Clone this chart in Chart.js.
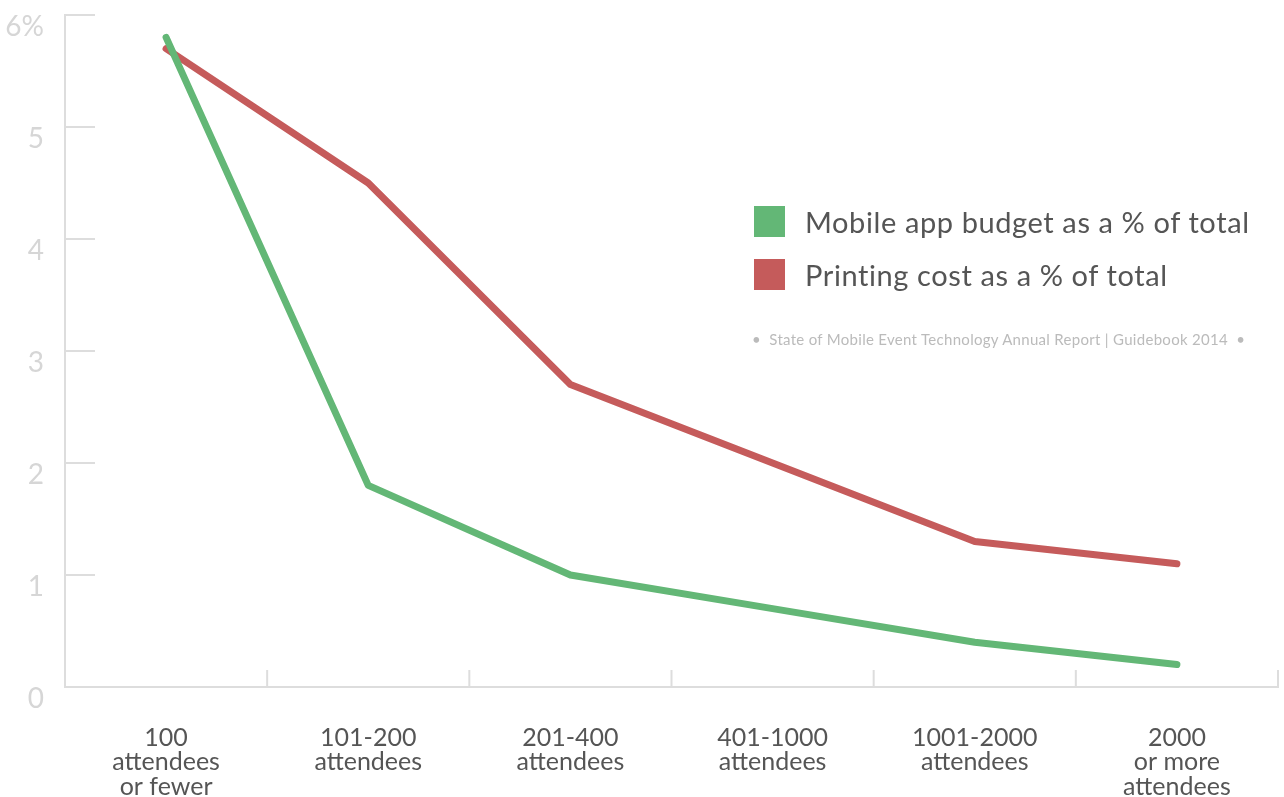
<!DOCTYPE html>
<html>
<head>
<meta charset="utf-8">
<script src="https://cdn.jsdelivr.net/npm/chart.js@4"></script>
<style>
html, body { margin: 0; padding: 0; background: #fff; }
#wrap { position: relative; width: 1284px; height: 797px; font-family: Lato, "Open Sans", sans-serif; }
#chart { position: absolute; left: 0; top: 0; }
.legend { position: absolute; left: 754px; color: #555; font-size: 29px; letter-spacing: 0.6px; line-height: 31px; white-space: nowrap; }
.legend span { display: inline-block; width: 31px; height: 31px; vertical-align: top; margin-right: 20px; }
#source { position: absolute; left: 752px; top: 330px; color: #bbb; font-size: 15px; letter-spacing: 0.3px; white-space: nowrap; }
</style>
</head>
<body>
<div id="wrap">
<canvas id="chart" width="1284" height="797"></canvas>
<div class="legend" style="top:206px"><span style="background:#63b776"></span>Mobile app budget as a % of total</div>
<div class="legend" style="top:259px"><span style="background:#c55b5b"></span>Printing cost as a % of total</div>
<div id="source">&bull;&nbsp;&nbsp;State of Mobile Event Technology Annual Report | Guidebook 2014&nbsp;&nbsp;&bull;</div>
</div>
<script>
// attendee size groups
const categories = [
['100', 'attendees', 'or fewer'],
['101-200', 'attendees'],
['201-400', 'attendees'],
['401-1000', 'attendees'],
['1001-2000', 'attendees'],
['2000', 'or more', 'attendees']
];
const mobileBudget = [5.8, 1.8, 1.0, 0.7, 0.4, 0.2];
const printingCost = [5.7, 4.5, 2.7, 2.0, 1.3, 1.1];
const yTicks = [0, 1, 2, 3, 4, 5, 6];

const axisColor = '#dddddd';

// short tick marks drawn inside the plot, like the original
const innerTicks = {
id: 'innerTicks',
afterDraw(chart) {
const { ctx, chartArea, scales } = chart;
ctx.save();
ctx.strokeStyle = axisColor;
ctx.lineWidth = 2;
ctx.beginPath();
yTicks.forEach(v => {
const y = scales.y.getPixelForValue(v);
ctx.moveTo(chartArea.left, y);
ctx.lineTo(chartArea.left + 30, y);
});
for (let i = 0; i <= categories.length; i++) {
const x = scales.x.getPixelForValue(i - 0.5);
ctx.moveTo(x, chartArea.bottom);
ctx.lineTo(x, chartArea.bottom - 17);
}
ctx.stroke();
ctx.restore();
}
};

new Chart(document.getElementById('chart'), {
type: 'line',
data: {
labels: categories,
datasets: [{
label: 'Mobile app budget as a % of total',
data: mobileBudget,
borderColor: '#63b776',
backgroundColor: '#63b776',
borderWidth: 7,
borderCapStyle: 'round',
borderJoinStyle: 'round',
pointRadius: 0,
tension: 0
}, {
label: 'Printing cost as a % of total',
data: printingCost,
borderColor: '#c55b5b',
backgroundColor: '#c55b5b',
borderWidth: 7,
borderCapStyle: 'round',
borderJoinStyle: 'round',
pointRadius: 0,
tension: 0
}]
},
options: {
responsive: false,
animation: false,
layout: { padding: { top: 15, right: 6, left: 0, bottom: 0 } },
plugins: {
legend: { display: false },
tooltip: { enabled: false }
},
scales: {
x: {
offset: true,
grid: { display: true, drawOnChartArea: false, drawTicks: false, offset: true },
border: { display: true, color: axisColor, width: 2 },
ticks: {
color: '#555555',
padding: 39,
maxRotation: 0,
autoSkip: false,
font: { family: 'Lato', size: 25, lineHeight: 0.97 }
},
afterFit(scale) {
scale.height = 110;
scale.paddingLeft = 0;
scale.paddingRight = 0;
}
},
y: {
min: 0,
max: 6,
grid: { display: true, drawOnChartArea: false, drawTicks: false },
border: { display: true, color: axisColor, width: 2 },
ticks: {
stepSize: 1,
color: '#d6d6d6',
padding: 21,
labelOffset: 12,
font: { family: 'Lato', size: 28, lineHeight: 1 },
callback: v => (v === 6 ? v + '%' : v)
},
afterFit(scale) {
scale.width = 65;
scale.paddingTop = 0;
scale.paddingBottom = 0;
}
}
}
},
plugins: [innerTicks]
});
</script>
</body>
</html>
